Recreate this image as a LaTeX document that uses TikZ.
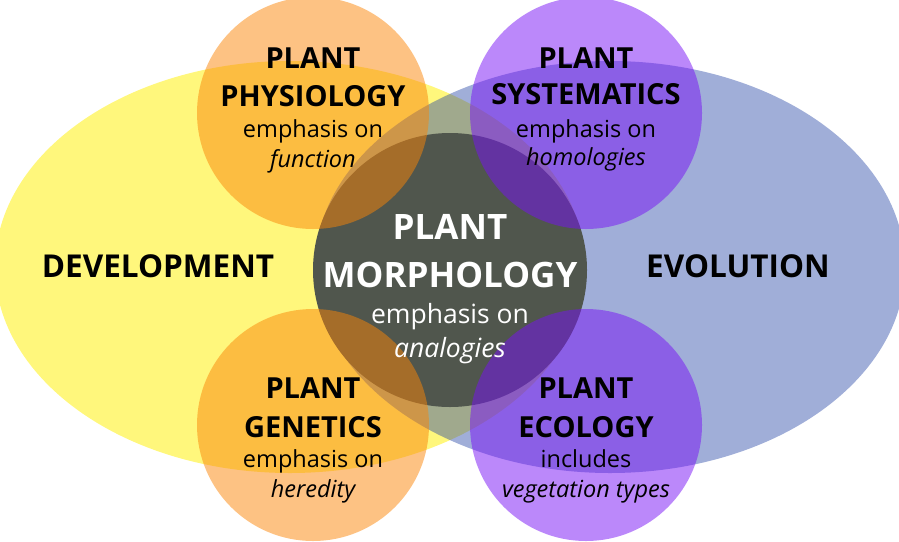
\documentclass[tikz,border=0pt]{standalone}
\usepackage{fontspec}
\setmainfont{Open Sans}
\usetikzlibrary{shapes.geometric,positioning}

\definecolor{devyellow}{RGB}{255,247,124}
\definecolor{evoblue}{RGB}{35,67,165}
\definecolor{morphgrey}{RGB}{80,86,77}
\definecolor{physorange}{RGB}{251,133,7}
\definecolor{systpurple}{RGB}{119,17,245}

\tikzset{
  field/.style={ellipse, inner sep=0pt, minimum width=590pt, minimum height=412pt},
  disc/.style={circle, inner sep=0pt, minimum size=232pt, fill opacity=0.5},
  head/.style={anchor=base, inner sep=0pt, font=\bfseries\fontsize{29}{31}\selectfont},
  note/.style={anchor=base, inner sep=0pt, font=\fontsize{23.5}{25}\selectfont},
  fieldhead/.style={head, font=\bfseries\fontsize{31.5}{33}\selectfont},
  bighead/.style={head, text=white, font=\bfseries\fontsize{35}{37}\selectfont},
  bignote/.style={note, text=white, font=\fontsize{26.5}{28}\selectfont}
}

\begin{document}
\begin{tikzpicture}[x=1pt,y=-1pt]
    \useasboundingbox (0,0) rectangle (899,541);
    % the two large fields
    \node[field, fill=devyellow] (development) at (290,267) {};
    \node[field, fill=evoblue, fill opacity=0.43] (evolution) at (610,267) {};
    \node[circle, inner sep=0pt, minimum size=274pt, fill=morphgrey] (morphology) at (450,270) {};
    % the four small circles
    \node[disc, fill=physorange] (physiology) at (313,113) {};
    \node[disc, fill=systpurple] (systematics) at (586,113) {};
    \node[disc, fill=physorange] (genetics) at (313,425) {};
    \node[disc, fill=systpurple] (ecology) at (586,425) {};

    \node[fieldhead] (development text) at (158,277) {DEVELOPMENT};
    \node[fieldhead] (evolution text) at (738,277) {EVOLUTION};

    \node[bighead] (morphology 1) at (450,239) {PLANT};
    \node[bighead] (morphology 2) at (450,287) {MORPHOLOGY};
    \node[bignote] (morphology 3) at (450,323) {emphasis on};
    \node[bignote] (morphology 4) at (450,357) {\itshape analogies};

    \node[head] (physiology 1) at (313,68) {PLANT};
    \node[head] (physiology 2) at (313,106) {PHYSIOLOGY};
    \node[note] (physiology 3) at (313,137) {emphasis on};
    \node[note] (physiology 4) at (313,167) {\itshape function};

    \node[head] (systematics 1) at (586,68) {PLANT};
    \node[head] (systematics 2) at (586,104) {SYSTEMATICS};
    \node[note] (systematics 3) at (586,137) {emphasis on};
    \node[note] (systematics 4) at (586,165) {\itshape homologies};

    \node[head] (genetics 1) at (313,398) {PLANT};
    \node[head] (genetics 2) at (313,437) {GENETICS};
    \node[note] (genetics 3) at (313,467) {emphasis on};
    \node[note] (genetics 4) at (313,497) {\itshape heredity};

    \node[head] (ecology 1) at (586,398) {PLANT};
    \node[head] (ecology 2) at (586,437) {ECOLOGY};
    \node[note] (ecology 3) at (586,467) {includes};
    \node[note] (ecology 4) at (586,497) {\itshape vegetation types};
\end{tikzpicture}
\end{document}
